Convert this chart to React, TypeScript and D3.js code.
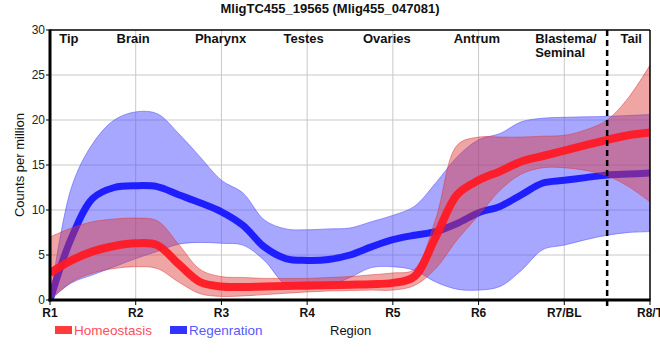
import React from "react";
import * as d3 from "d3";

const title = "MligTC455_19565 (Mlig455_047081)";
const xTickLabels = ["R1", "R2", "R3", "R4", "R5", "R6", "R7/BL", "R8/T"];
const yTicks = [0, 5, 10, 15, 20, 25, 30];
const positions = [1, 1.25, 1.5, 1.75, 2, 2.25, 2.5, 2.75, 3, 3.25, 3.5, 3.75, 4, 4.25, 4.5, 4.75, 5, 5.25, 5.5, 5.75, 6, 6.25, 6.5, 6.75, 7, 7.25, 7.5, 7.75, 8];

const homeoMean = [3.0, 4.4, 5.4, 6.0, 6.3, 6.1, 4.0, 2.0, 1.5, 1.45, 1.5, 1.55, 1.6, 1.65, 1.7, 1.75, 1.9, 2.6, 7.0, 11.7, 13.3, 14.3, 15.4, 16.0, 16.6, 17.2, 17.8, 18.3, 18.6];
const homeoUpper = [7.0, 8.0, 8.7, 9.0, 9.1, 8.8, 6.2, 3.4, 2.6, 2.5, 2.4, 2.4, 2.4, 2.5, 2.6, 2.8, 3.0, 3.4, 9.0, 17.2, 18.1, 18.1, 18.1, 18.2, 18.3, 18.9, 20.0, 22.5, 26.1];
const homeoLower = [0.0, 2.0, 3.0, 3.5, 3.7, 3.5, 2.0, 0.7, 0.4, 0.45, 0.6, 0.75, 0.9, 1.0, 1.05, 1.1, 1.1, 1.6, 3.5, 6.7, 9.4, 12.2, 14.0, 14.7, 14.7, 14.4, 13.8, 12.6, 10.9];

const regenMean = [0.0, 6.9, 11.3, 12.5, 12.7, 12.6, 11.7, 10.8, 9.8, 8.3, 5.9, 4.6, 4.4, 4.5, 5.0, 5.9, 6.7, 7.2, 7.6, 8.5, 9.7, 10.4, 11.7, 13.0, 13.3, 13.6, 13.9, 14.0, 14.1];
const regenUpper = [0.0, 12.5, 17.4, 20.0, 20.9, 20.7, 18.5, 15.9, 13.3, 11.9, 8.9, 7.9, 7.8, 7.9, 8.0, 8.7, 9.4, 10.4, 13.0, 15.9, 17.8, 18.5, 19.8, 20.2, 20.3, 20.35, 20.4, 20.5, 20.6];
const regenLower = [0.0, 1.9, 2.8, 3.7, 4.6, 5.4, 6.2, 6.4, 6.3, 6.1, 4.4, 1.7, 1.2, 1.6, 2.5, 3.6, 3.7, 3.3, 2.0, 1.2, 1.1, 1.5, 3.3, 5.6, 6.1, 6.7, 7.2, 7.5, 7.6];

const regionNames = ["Tip", "Brain", "Pharynx", "Testes", "Ovaries", "Antrum", "Tail"];
const regionCenters = [1.22, 1.97, 2.99, 3.96, 4.93, 5.98, 7.78];
const blastemaLines = ["Blastema/", "Seminal"];
const blastemaStart = 6.66;
const dividerAt = 7.5;

const seriesNames = ["Homeostasis", "Regenration"];

const FONT = "Arial, 'Liberation Sans', sans-serif";

export default function App() {
  const W = 660, H = 360;
  const x = d3.scaleLinear().domain([1, 8]).range([50, 650]);
  const y = d3.scaleLinear().domain([0, 30]).range([300, 30]);
  const curve = d3.curveCatmullRom.alpha(0.5);

  const line = (vals: number[]) =>
    d3.line<number>().x((_, i) => x(positions[i])).y((v) => y(Math.max(0, v))).curve(curve)(vals) || "";
  const band = (lo: number[], hi: number[]) =>
    d3
      .area<number>()
      .x((_, i) => x(positions[i]))
      .y0((_, i) => y(lo[i]))
      .y1((_, i) => y(hi[i]))
      .curve(curve)(positions) || "";

  return (
    <svg width={W} height={H} style={{ position: "absolute", left: 0, top: 0, background: "#fff" }} fontFamily={FONT}>
      <defs>
        <clipPath id="plotClip">
          <rect x={x(1)} y={y(30)} width={x(8) - x(1)} height={y(0) - y(30)} />
        </clipPath>
      </defs>
      <text x={330} y={13} textAnchor="middle" fontSize={13} fontWeight="bold" fill="#111">{title}</text>

      {/* grid */}
      {yTicks.slice(1, -1).map((t) => (
        <line key={"gy" + t} x1={x(1)} x2={x(8)} y1={y(t)} y2={y(t)} stroke="#c8c8c8" strokeWidth={1} />
      ))}
      {xTickLabels.slice(1, -1).map((_, i) => (
        <line key={"gx" + i} x1={x(i + 2)} x2={x(i + 2)} y1={y(30)} y2={y(0)} stroke="#c8c8c8" strokeWidth={1} />
      ))}

      <g clipPath="url(#plotClip)">
        {/* regeneration */}
        <path d={band(regenLower, regenUpper)} fill="rgba(80,80,255,0.5)" stroke="rgba(80,80,255,0.55)" strokeWidth={1} />
        <path d={line(regenMean)} fill="none" stroke="#1e1eff" strokeWidth={7} />

        {/* homeostasis */}
        <path d={band(homeoLower, homeoUpper)} fill="rgba(222,55,55,0.45)" stroke="rgba(222,55,55,0.5)" strokeWidth={1} />
        <path d={line(homeoMean)} fill="none" stroke="rgba(255,25,35,0.95)" strokeWidth={8} />
      </g>

      {/* frame */}
      <line x1={x(1)} x2={x(8)} y1={y(30)} y2={y(30)} stroke="#000" strokeWidth={1.5} />
      <line x1={x(8)} x2={x(8)} y1={y(30)} y2={y(0)} stroke="#000" strokeWidth={1.5} />
      <line x1={x(1)} x2={x(1)} y1={y(30) - 0.5} y2={y(0) + 1.5} stroke="#000" strokeWidth={3} />
      <line x1={x(1) - 1.5} x2={x(8) + 0.5} y1={y(0)} y2={y(0)} stroke="#000" strokeWidth={3} />

      {/* divider */}
      <line x1={x(dividerAt)} x2={x(dividerAt)} y1={y(30)} y2={y(0) + 6} stroke="#000" strokeWidth={2.5} strokeDasharray="6,4" />

      {/* y ticks */}
      {yTicks.map((t) => (
        <g key={"yt" + t}>
          <line x1={x(1) - 4} x2={x(1)} y1={y(t)} y2={y(t)} stroke="#000" strokeWidth={1} />
          <text x={45} y={y(t) + 4} textAnchor="end" fontSize={12} fill="#222">{t}</text>
        </g>
      ))}
      {/* x ticks */}
      {xTickLabels.map((l, i) => (
        <g key={"xt" + l}>
          <line x1={x(i + 1)} x2={x(i + 1)} y1={y(0)} y2={y(0) + 5} stroke="#000" strokeWidth={1} />
          <text x={x(i + 1)} y={317} textAnchor="middle" fontSize={12} fontWeight="bold" fill="#111">{l}</text>
        </g>
      ))}

      {/* region labels */}
      {regionNames.map((n, i) => (
        <text key={n} x={x(regionCenters[i])} y={43} textAnchor="middle" fontSize={13} fontWeight="bold" fill="#111">{n}</text>
      ))}
      {blastemaLines.map((l, i) => (
        <text key={l} x={x(blastemaStart)} y={43 + i * 14} textAnchor="start" fontSize={13} fontWeight="bold" fill="#111">{l}</text>
      ))}

      {/* axis titles */}
      <text transform="translate(24,165) rotate(-90)" textAnchor="middle" fontSize={13} fill="#111">Counts per million</text>
      <text x={330} y={335} fontSize={13} fill="#111">Region</text>

      {/* legend */}
      <rect x={55} y={326} width={17} height={8} fill="#ff3b3b" />
      <text x={74} y={335} fontSize={13.5} fill="#ff4d5a">{seriesNames[0]}</text>
      <rect x={170} y={326} width={17} height={8} fill="#3333ff" />
      <text x={189} y={335} fontSize={13.5} fill="#5858ff">{seriesNames[1]}</text>
    </svg>
  );
}
